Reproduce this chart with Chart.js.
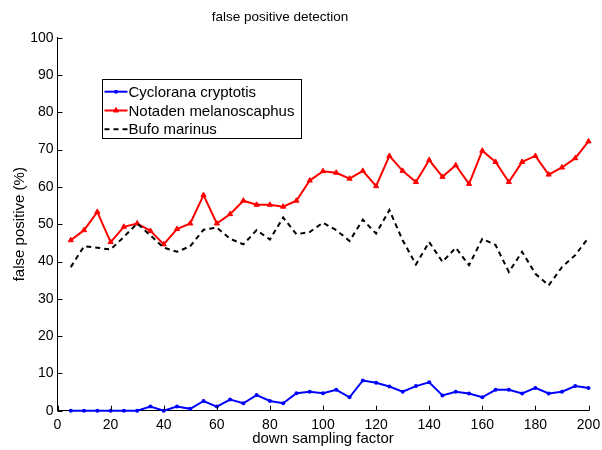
<!DOCTYPE html>
<html><head><meta charset="utf-8">
<script src="https://cdn.jsdelivr.net/npm/chart.js@4/dist/chart.umd.min.js"></script>
<style>html,body{margin:0;padding:0;background:#fff;}#wrap{width:602px;height:450px;}</style>
</head><body><div id="wrap"><canvas id="c" width="602" height="450"></canvas></div>
<script>
const chartTitle = 'false positive detection';
const xAxisTitle = 'down sampling factor';
const yAxisTitle = 'false positive (%)';
const seriesNames = ['Cyclorana cryptotis', 'Notaden melanoscaphus', 'Bufo marinus'];
const xValues = [5,10,15,20,25,30,35,40,45,50,55,60,65,70,75,80,85,90,95,100,105,110,115,120,125,130,135,140,145,150,155,160,165,170,175,180,185,190,195,200];
const cycloranaValues = [0,0,0,0,0,0,1.1,0,1.1,0.5,2.6,1.1,3.0,2.0,4.2,2.6,2.0,4.7,5.1,4.7,5.6,3.6,8.1,7.5,6.5,5.1,6.6,7.6,4.1,5.1,4.6,3.6,5.6,5.6,4.6,6.1,4.6,5.1,6.6,6.1];
const notadenValues = [45.7,48.4,53.3,45.2,49.3,50.2,48.2,44.6,48.7,50.2,57.8,50.2,52.7,56.3,55.2,55.2,54.7,56.3,61.7,64.2,63.8,62.2,64.3,60.2,68.3,64.3,61.3,67.2,62.7,65.8,60.8,69.7,66.7,61.3,66.7,68.3,63.3,65.2,67.7,72.2];
const bufoValues = [38.5,44.1,43.7,43.2,46.6,50.2,47.0,43.7,42.6,44.1,48.5,49.1,46.1,44.6,48.4,45.9,51.8,47.3,47.9,50.4,48.4,45.5,51.2,47.5,53.8,45.7,39.2,45.2,39.9,43.7,39.0,46.1,44.4,37.2,42.6,36.7,33.6,38.5,41.7,46.4];
const xTickValues = [0,20,40,60,80,100,120,140,160,180,200];
const yTickValues = [0,10,20,30,40,50,60,70,80,90,100];

const FONT = 'Liberation Sans, Arial, Helvetica, sans-serif';
const toPoints = (ys) => xValues.map((x, i) => ({x: x, y: ys[i]}));

const titleText = {
  id: 'titleText',
  afterDraw(chart) {
    const ctx = chart.ctx;
    ctx.save();
    ctx.font = '13.5px ' + FONT;
    ctx.fillStyle = '#000';
    ctx.textAlign = 'center';
    ctx.textBaseline = 'middle';
    ctx.fillText(chartTitle, 280, 17);
    ctx.restore();
  }
};

const inwardTicks = {
  id: 'inwardTicks',
  afterDraw(chart) {
    const ctx = chart.ctx, xs = chart.scales.x, ys = chart.scales.y, a = chart.chartArea;
    ctx.save();
    ctx.strokeStyle = '#000';
    ctx.lineWidth = 1;
    ctx.beginPath();
    xTickValues.forEach(v => {
      const px = Math.round(xs.getPixelForValue(v)) + 0.5;
      ctx.moveTo(px, a.bottom); ctx.lineTo(px, a.bottom - 5);
    });
    yTickValues.forEach(v => {
      const py = Math.round(ys.getPixelForValue(v)) + 0.5;
      ctx.moveTo(a.left, py); ctx.lineTo(a.left + 5, py);
    });
    ctx.stroke();
    ctx.restore();
  }
};

const boxLegend = {
  id: 'boxLegend',
  afterDatasetsDraw(chart) {
    const ctx = chart.ctx;
    const ds = chart.data.datasets;
    const left = 102.5, top = 79.5, rowH = 18.8, lineLen = 23, textX = 128.5;
    ctx.save();
    ctx.font = '15px ' + FONT;
    let maxW = 0;
    ds.forEach(d => { maxW = Math.max(maxW, ctx.measureText(d.label).width); });
    const w = Math.round(textX + maxW + 7 - left);
    const h = 59;
    ctx.fillStyle = '#fff';
    ctx.fillRect(left, top, w, h);
    ctx.strokeStyle = '#000';
    ctx.lineWidth = 1;
    ctx.strokeRect(left, top, w, h);
    ds.forEach((d, i) => {
      const cy = top + 12.2 + i * rowH;
      ctx.save();
      ctx.strokeStyle = d.borderColor;
      ctx.lineWidth = d.borderWidth;
      ctx.setLineDash(d.borderDash || []);
      ctx.beginPath();
      ctx.moveTo(left + 2, cy); ctx.lineTo(left + 2 + lineLen, cy);
      ctx.stroke();
      ctx.restore();
      if (d.pointRadius > 0) {
        ctx.fillStyle = d.pointBackgroundColor;
        ctx.strokeStyle = d.pointBorderColor;
        Chart.helpers.drawPoint(ctx, {pointStyle: d.pointStyle, radius: d.pointRadius, rotation: 0, borderWidth: d.pointBorderWidth}, left + 2 + lineLen / 2, cy);
      }
      ctx.fillStyle = '#000';
      ctx.textBaseline = 'middle';
      ctx.textAlign = 'left';
      ctx.fillText(d.label, textX, cy + 1);
    });
    ctx.restore();
  }
};

new Chart(document.getElementById('c'), {
  type: 'line',
  data: {
    datasets: [
      {label: seriesNames[0], data: toPoints(cycloranaValues), borderColor: '#0000ff', backgroundColor: '#0000ff',
       pointBackgroundColor: '#0000ff', pointBorderColor: '#0000ff', borderWidth: 2, pointRadius: 2, pointBorderWidth: 0, pointStyle: 'circle',
       tension: 0, clip: false, order: 2},
      {label: seriesNames[1], data: toPoints(notadenValues), borderColor: '#ff0000', backgroundColor: '#ff0000',
       pointBackgroundColor: '#ff0000', pointBorderColor: '#ff0000', borderWidth: 2, pointRadius: 3, pointBorderWidth: 1, pointStyle: 'triangle',
       tension: 0, clip: false, order: 1},
      {label: seriesNames[2], data: toPoints(bufoValues), borderColor: '#000000', backgroundColor: '#000000',
       borderWidth: 2, borderDash: [5, 4], pointRadius: 0, tension: 0, clip: false, order: 0}
    ]
  },
  options: {
    responsive: false,
    animation: false,
    devicePixelRatio: 1,
    layout: {padding: {left: 0, right: 13.5, top: 37.7, bottom: 0}},
    plugins: {
      legend: {display: false},
      tooltip: {enabled: false},
      title: {display: false}
    },
    scales: {
      x: {
        type: 'linear', min: 0, max: 200,
        afterBuildTicks: (s) => { s.ticks = xTickValues.map(v => ({value: v})); },
        afterFit: (s) => { s.height = 39.3; s.paddingLeft = 0; s.paddingRight = 0; },
        grid: {display: false, drawTicks: false, tickLength: 0},
        border: {display: true, color: '#000', width: 1},
        ticks: {color: '#000', padding: 7.8, maxRotation: 0, autoSkip: false,
                font: {family: FONT, size: 14, lineHeight: 1},
                callback: (v) => String(v)},
        title: {display: true, text: xAxisTitle, color: '#000',
                font: {family: FONT, size: 15, lineHeight: 1}, padding: {top: 0, bottom: 4}}
      },
      y: {
        type: 'linear', min: 0, max: 100,
        afterBuildTicks: (s) => { s.ticks = yTickValues.map(v => ({value: v})); },
        afterFit: (s) => { s.width = 57.5; s.paddingTop = 0; s.paddingBottom = 0; },
        grid: {display: false, drawTicks: false, tickLength: 0},
        border: {display: true, color: '#000', width: 1},
        ticks: {color: '#000', padding: 4, autoSkip: false,
                font: {family: FONT, size: 14, lineHeight: 1.2},
                callback: (v) => String(v)},
        title: {display: true, text: yAxisTitle, color: '#000',
                font: {family: FONT, size: 15, lineHeight: 1.2}, padding: {top: 11, bottom: 0}}
      }
    }
  },
  plugins: [inwardTicks, boxLegend, titleText]
});
</script></body></html>
